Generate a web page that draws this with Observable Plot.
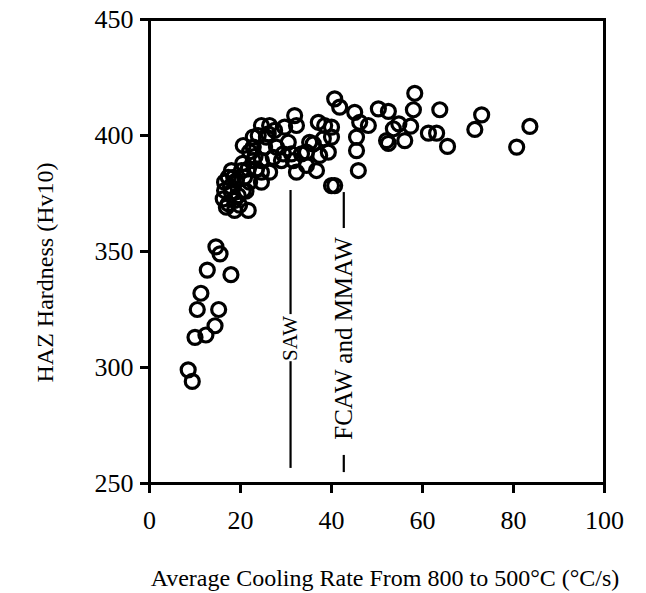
<!DOCTYPE html>
<html>
<head>
<meta charset="utf-8">
<script src="https://cdn.jsdelivr.net/npm/d3@7"></script>
<script src="https://cdn.jsdelivr.net/npm/@observablehq/plot@0.6"></script>
<style>
  html, body { margin: 0; padding: 0; background: #fff; }
  #chart svg { display: block; }
</style>
</head>
<body>
<div id="chart"></div>
<script>
// Average cooling rate from 800 to 500°C (°C/s)
const coolingRate = [
  14.6, 15.5, 12.7, 17.9, 11.3, 10.5, 15.2, 14.4, 12.4, 10.0, 8.5, 9.4,
  31.9, 32.3, 29.7, 27.5, 26.4, 24.6, 23.9, 25.7, 22.8, 20.6, 22.8, 25.3, 27.9,
  29.4, 31.2, 27.2, 29.0, 31.6, 24.6, 22.8, 23.5, 26.4, 24.6, 21.7, 20.2, 18.0,
  20.9, 22.0, 24.6, 19.1, 17.3, 16.5, 20.6, 18.0, 16.5, 16.2, 19.5, 18.7, 17.3,
  16.9, 18.7, 21.7, 17.8, 19.8, 21.2, 18.5, 20.5, 23.2, 22.0, 26.1,
  37.1, 38.5, 40.0, 40.0, 38.2, 36.0, 39.3, 37.4, 34.5, 33.4, 30.5, 34.5, 36.7,
  32.3, 35.2, 41.8, 40.7, 45.1, 46.2, 48.1, 45.5, 45.5, 45.9, 40.7, 40.0, 50.3,
  52.5, 58.3, 58.0, 57.4, 54.8, 53.6, 52.1, 52.5, 56.1, 63.8, 61.3, 63.1, 65.5,
  73.0, 71.5, 80.7, 83.6
];
// HAZ hardness (Hv10)
const hardness = [
  352, 349, 342, 340, 332, 325, 325, 318, 314, 313, 299, 294,
  408.6, 404.3, 403.6, 402.2, 404.3, 404.3, 400, 399.3, 399.3, 395.7, 395, 395, 395,
  392.1, 392.1, 390.6, 389.2, 389.2, 389.2, 389.2, 385.6, 384.2, 384.2, 385.6, 384.9, 384.9,
  382, 379.9, 379.9, 380.6, 382, 379.9, 376.3, 375.6, 376.3, 372.7, 374.1, 372, 370.6,
  369.1, 367.7, 367.7, 378, 370, 376, 382, 388, 391, 393, 400.7,
  405.7, 404.3, 403.6, 399.3, 398.6, 396.4, 392.8, 391.4, 392.8, 392.1, 397.1, 387.1, 384.9,
  384.2, 397.1, 412.2, 415.8, 410, 405.7, 404.3, 399.3, 393.5, 384.9, 378.4, 378.4, 411.5,
  410.4, 418.2, 411.1, 404, 405, 402.9, 397.8, 396.6, 397.8, 411.1, 401, 401, 395.3,
  408.9, 402.6, 395, 403.9
];

const xTicks = [0, 20, 40, 60, 80, 100];
const yTicks = [250, 300, 350, 400, 450];
const xTitle = "Average Cooling Rate From 800 to 500°C (°C/s)";
const yTitle = "HAZ Hardness (Hv10)";

// Process annotation lines (SAW, FCAW and MMAW)
const processNames = ["SAW", "FCAW and MMAW"];
const processRate = [31, 42.7];
const processLabelHardness = [312.5, 312.5];
const segRate = [31, 31, 42.7, 42.7];
const segTop = [376.3, 302.5, 375.4, 262.1];
const segBottom = [322.8, 256.5, 359.9, 254.7];

const points = coolingRate.map((x, i) => ({x, y: hardness[i]}));
const segments = segRate.map((x, i) => ({x, y1: segTop[i], y2: segBottom[i]}));
const labels = processNames.map((name, i) => ({name, x: processRate[i], y: processLabelHardness[i]}));

const chart = Plot.plot({
  width: 646,
  height: 593,
  marginLeft: 149,
  marginRight: 42,
  marginTop: 19,
  marginBottom: 110,
  style: {fontFamily: "Liberation Serif", background: "#fff", color: "#000"},
  x: {domain: [0, 100]},
  y: {domain: [250, 450]},
  marks: [
    Plot.axisX({ticks: xTicks, tickSize: 10, tickPadding: 17, strokeWidth: 3, fontSize: 26, label: null}),
    Plot.axisY({ticks: yTicks, tickSize: 9, tickPadding: 7, strokeWidth: 3, fontSize: 26, label: null}),
    Plot.text([xTitle], {frameAnchor: "bottom", lineAnchor: "middle", textAnchor: "middle", dy: 95, dx: 8, fontSize: 24, fill: "#000"}),
    Plot.text([yTitle], {frameAnchor: "left", textAnchor: "middle", lineAnchor: "middle", dx: -104, dy: 21, rotate: -90, fontSize: 24, fill: "#000"}),
    Plot.frame({stroke: "#000", strokeWidth: 3}),
    Plot.ruleX(segments, {x: "x", y1: "y1", y2: "y2", stroke: "#000", strokeWidth: 2.2}),
    Plot.text(labels.slice(0, 1), {x: "x", y: "y", text: "name", rotate: -90, fontSize: 21, fill: "#000"}),
    Plot.text(labels.slice(1), {x: "x", y: "y", text: "name", rotate: -90, fontSize: 25, fill: "#000"}),
    Plot.dot(points, {x: "x", y: "y", r: 7, stroke: "#000", strokeWidth: 3.2, fill: "none"})
  ]
});
document.getElementById("chart").appendChild(chart);
</script>
</body>
</html>
